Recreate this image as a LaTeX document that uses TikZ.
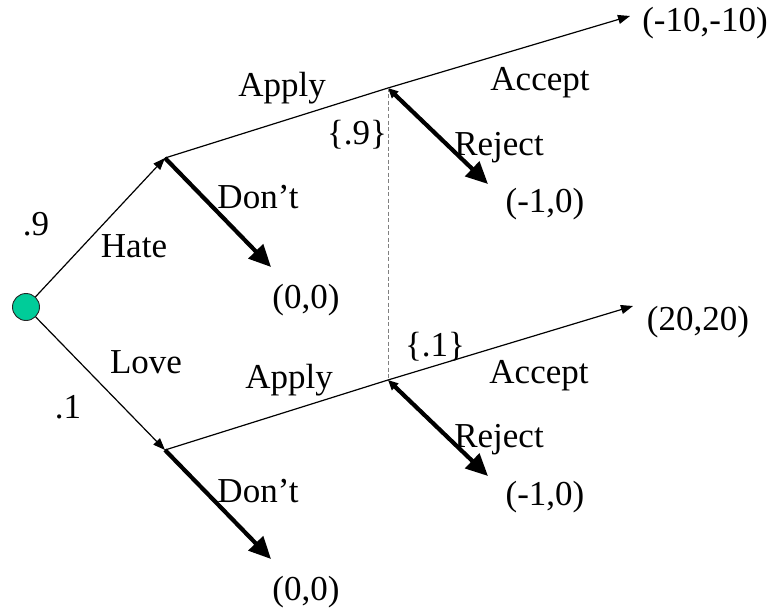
\documentclass[tikz,border=0pt]{standalone}
\usepackage{fontspec}
\setmainfont{Liberation Serif}
\usetikzlibrary{arrows.meta}
\begin{document}
\begin{tikzpicture}[x=1pt,y=-1pt,
  lbl/.style={anchor=base,inner sep=0pt,font=\fontsize{35}{40}\selectfont},
  thinarr/.style={line width=1.2pt,-{Triangle[length=12pt,width=9pt]}},
  thinline/.style={line width=1.2pt},
  thickarr/.style={line width=4.2pt,{Triangle[length=10pt,width=9pt]}-{Triangle[length=22pt,width=20pt]}},
  thickarrb/.style={line width=4.2pt,-{Triangle[length=22pt,width=20pt]}}]
\useasboundingbox (0,0) rectangle (777,610);
\definecolor{rootgreen}{RGB}{0,204,153}
% decision nodes
\node[circle,draw=black!85,line width=0.9pt,fill=rootgreen,minimum size=27pt,inner sep=0pt] (r) at (26,307) {};
\coordinate (A) at (165,158);
\coordinate (B) at (165,450);
\coordinate (C) at (388,88);
\coordinate (D) at (388,380);
\coordinate (acc1) at (630,16);
\coordinate (acc2) at (633,306);
\coordinate (dont1) at (271,267);
\coordinate (dont2) at (271,559);
\coordinate (rej1) at (488,184);
\coordinate (rej2) at (488,476);
% connectors
\draw[thinarr] (r) -- (A);
\draw[thinarr] (r) -- (B);
\draw[thinline] (A) -- (C);
\draw[thinline] (B) -- (D);
\draw[thinarr] (C) -- (acc1);
\draw[thinarr] (D) -- (acc2);
\draw[thickarrb] (A) -- (dont1);
\draw[thickarrb] (B) -- (dont2);
\draw[thickarr] (C) -- (rej1);
\draw[thickarr] (D) -- (rej2);
\draw[gray,line width=0.9pt,dash pattern=on 4pt off 2.5pt] (C) -- (D);
% labels
\node[lbl] (l9) at (36,235) {.9};
\node[lbl] (lhate) at (134,257) {Hate};
\node[lbl] (llove) at (146,373) {Love};
\node[lbl] (l1) at (68,418) {.1};
\node[lbl] (lapply1) at (282,96) {Apply};
\node[lbl] (lapply2) at (289,388) {Apply};
\node[lbl] (ldont1) at (258,208) {Don’t};
\node[lbl] (ldont2) at (258,502) {Don’t};
\node[lbl] (l001) at (306,308) {(0,0)};
\node[lbl] (l002) at (306,600) {(0,0)};
\node[lbl] (lacc1) at (540,91) {Accept};
\node[lbl] (lacc2) at (539,383) {Accept};
\node[lbl] (lrej1) at (499,155) {Reject};
\node[lbl] (lrej2) at (499,447) {Reject};
\node[lbl] (lb9) at (357,144) {\{.9\}};
\node[lbl] (lb1) at (435,356) {\{.1\}};
\node[lbl] (lm1) at (545,212) {(-1,0)};
\node[lbl] (lm2) at (545,505) {(-1,0)};
\node[lbl] (l1010) at (705,32) {(-10,-10)};
\node[lbl] (l2020) at (698,330) {(20,20)};
\end{tikzpicture}
\end{document}
